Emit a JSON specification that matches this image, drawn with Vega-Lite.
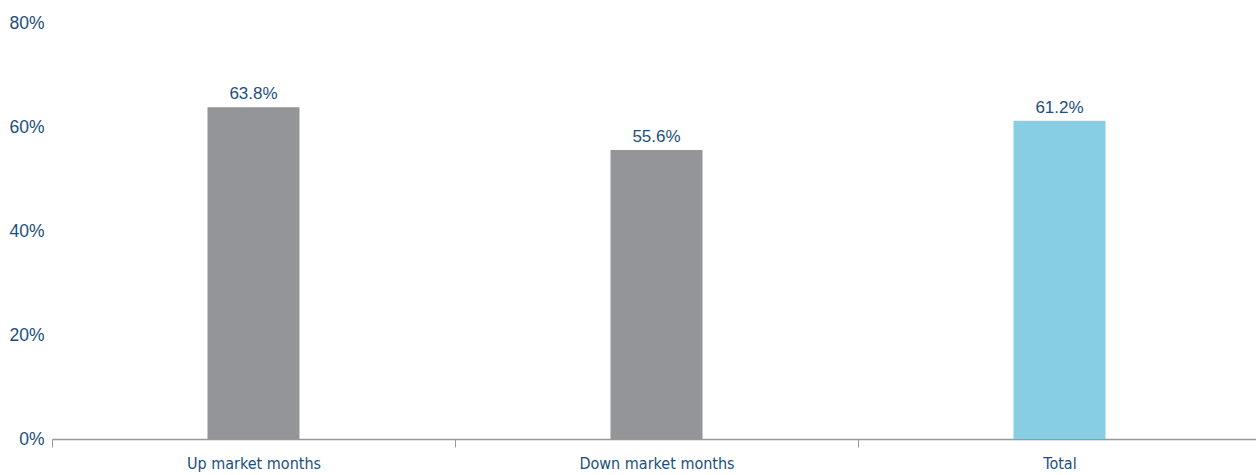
{
  "$schema": "https://vega.github.io/schema/vega-lite/v6.json",
  "width": 1209,
  "height": 416,
  "autosize": {"type": "none"},
  "padding": {"left": 52, "top": 23, "right": 0, "bottom": 36},
  "background": "white",
  "config": {"view": {"stroke": null}},
  "data": {
    "values": [
      {"category": "Up market months", "value": 0.638, "type": "market"},
      {"category": "Down market months", "value": 0.556, "type": "market"},
      {"category": "Total", "value": 0.612, "type": "total"}
    ]
  },
  "encoding": {
    "x": {
      "field": "category",
      "type": "nominal",
      "sort": null,
      "scale": {"paddingInner": 0, "paddingOuter": 0},
      "axis": {
        "title": null,
        "labelAngle": 0,
        "labelFont": "DejaVu Sans Condensed",
        "labelFontSize": 16,
        "labelColor": "#1b4f7c",
        "labelPadding": 8,
        "tickBand": "extent",
        "tickColor": "#999999",
        "tickSize": 8,
        "domainColor": "#999999",
        "domainWidth": 1.5,
        "grid": false
      }
    },
    "y": {
      "field": "value",
      "type": "quantitative",
      "scale": {"domain": [0, 0.8]},
      "axis": {
        "title": null,
        "values": [0, 0.2, 0.4, 0.6, 0.8],
        "format": ".0%",
        "labelFont": "Liberation Sans",
        "labelFontSize": 17.5,
        "labelColor": "#1b4f7c",
        "labelPadding": 8,
        "domain": false,
        "ticks": false,
        "grid": false
      }
    }
  },
  "layer": [
    {
      "mark": {"type": "bar", "size": 92},
      "encoding": {
        "color": {
          "field": "type",
          "type": "nominal",
          "scale": {"domain": ["market", "total"], "range": ["#939598", "#87cee3"]},
          "legend": null
        }
      }
    },
    {
      "mark": {"type": "text", "dy": -13, "font": "Liberation Sans", "fontSize": 17, "color": "#1b4f7c"},
      "encoding": {
        "text": {"field": "value", "type": "quantitative", "format": ".1%"}
      }
    }
  ]
}
